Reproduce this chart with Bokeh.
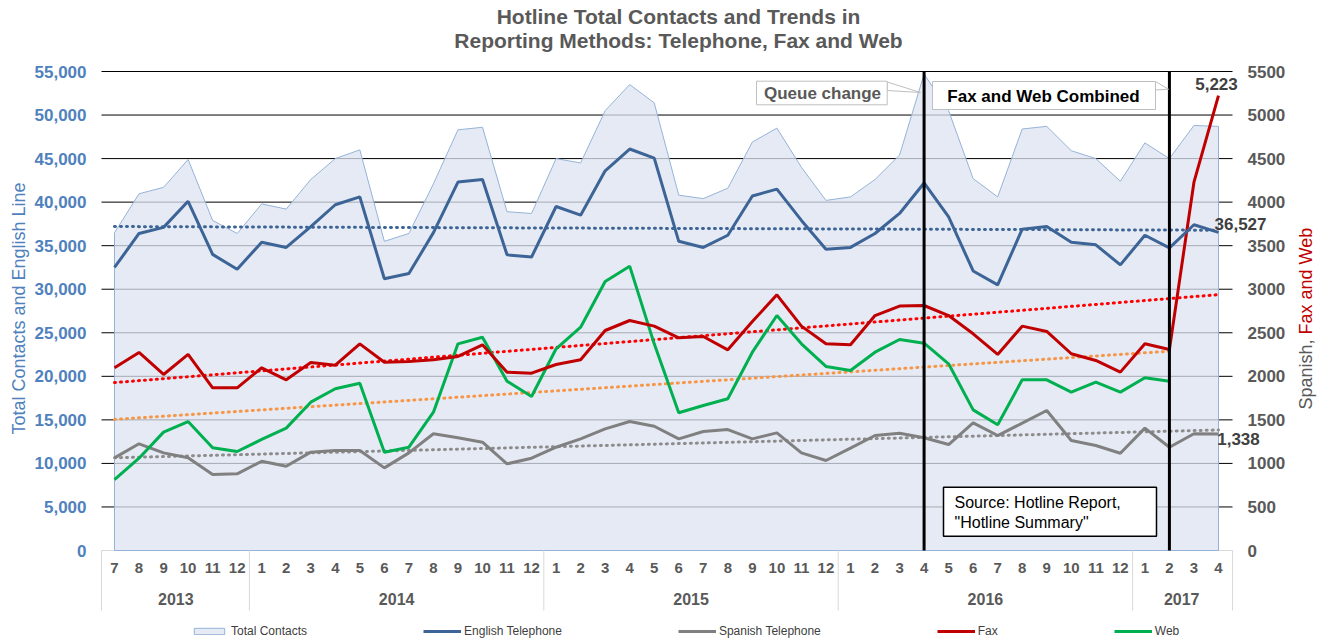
import numpy as np
from bokeh.plotting import figure
from bokeh.models import Range1d, Legend, LegendItem
from bokeh.embed import file_html
from bokeh.resources import INLINE
from bokeh.core.properties import value

# ---------------- data ----------------
years = ["2013", "2014", "2015", "2016", "2017"]
year_months = [[7, 8, 9, 10, 11, 12], list(range(1, 13)), list(range(1, 13)),
               list(range(1, 13)), [1, 2, 3, 4]]
months = [str(m) for ms in year_months for m in ms]

left_ticks = list(range(0, 55001, 5000))
right_ticks = list(range(0, 5501, 500))

total = [36500, 40960, 41700, 44900, 37900, 36400,
         39800, 39200, 42600, 45000, 46000, 35500, 36400, 42100, 48300, 48600, 38900, 38700,
         45000, 44500, 50500, 53500, 51400, 40800, 40400, 41600, 46900, 48500, 44000, 40200,
         40600, 42600, 45400, 54700, 50500, 42700, 40600, 48400, 48700, 45900, 45000, 42400,
         46800, 45000, 48800, 48700]
english = [32500, 36400, 37100, 40100, 34000, 32300,
           35400, 34800, 37200, 39700, 40600, 31200, 31800, 36500, 42300, 42600, 33950, 33700,
           39500, 38500, 43600, 46100, 45050, 35500, 34800, 36200, 40700, 41500, 37900, 34600,
           34800, 36400, 38700, 42200, 38300, 32100, 30500, 36900, 37200, 35400, 35100, 32800,
           36200, 34750, 37400, 36527]
spanish = [1064, 1225, 1121, 1064, 873, 880,
           1025, 968, 1129, 1148, 1148, 949, 1121, 1340, 1294, 1244, 995, 1060,
           1186, 1282, 1397, 1481, 1427, 1282, 1366, 1389, 1282, 1351, 1121, 1033,
           1175, 1320, 1347, 1294, 1217, 1466, 1320, 1462, 1608, 1263, 1206, 1117,
           1405, 1186, 1340, 1338]
fax = [2098, 2274, 2021, 2251, 1868, 1868,
       2098, 1960, 2159, 2128, 2373, 2162, 2170, 2190, 2228, 2362, 2048, 2036,
       2136, 2190, 2526, 2641, 2576, 2442, 2457, 2304, 2629, 2936, 2576, 2373,
       2362, 2698, 2806, 2813, 2698, 2488, 2251, 2576, 2515, 2259, 2182, 2048,
       2373, 2308, 4229, 5223]
web = [815, 1060, 1359, 1481, 1179, 1137,
       1275, 1405, 1703, 1857, 1921, 1129, 1186, 1588, 2373, 2449, 1944, 1768,
       2316, 2564, 3089, 3265, 2373, 1581, 1665, 1742, 2277, 2698, 2373, 2113,
       2067, 2277, 2423, 2380, 2144, 1615, 1443, 1960, 1960, 1818, 1933, 1818,
       1983, 1944]

queue_change_month = 33     # 2016-4
combined_month = 43         # 2017-2

# ---------------- styling / layout ----------------
FONT = "Liberation Sans"
GREY_TXT = "#595959"
BLUE_TXT = "#4F81BD"
C_TOTAL_FILL = "#DDE3F0"
C_TOTAL_LINE = "#95B3D7"
C_ENG = "#3C6496"
C_SPA = "#808080"
C_FAX = "#C00000"
C_WEB = "#00B050"

W, H = 1324, 642
KX = 24.533             # px per month
KY = 479 / 55000        # px per contact (left scale)
X0, Y0 = 114, 550       # pixel position of first month / zero line


def X(px):
    return (px - X0) / KX


def Y(py):
    return (Y0 - py) / KY


n = len(months)
idx = list(range(n))

p = figure(width=W, height=H, output_backend="svg", toolbar_location=None,
           x_range=Range1d(X(0), X(W)), y_range=Range1d(Y(H), Y(0)),
           x_axis_location=None, y_axis_location=None,
           min_border=0, min_border_left=0, min_border_right=0,
           min_border_top=0, min_border_bottom=0,
           background_fill_color="white", border_fill_color="white")
p.outline_line_color = None
p.xgrid.visible = False
p.ygrid.visible = False
p.extra_y_ranges = {"right": Range1d(Y(H) / 10, Y(0) / 10)}

x_left, x_right = X(101), X(1232)

# gridlines
gt = left_ticks[1:]
p.segment(x0=[x_left] * len(gt), x1=[x_right] * len(gt), y0=gt, y1=gt,
          line_color="black", line_width=1)
p.segment(x0=[x_left], x1=[x_right], y0=[0], y1=[0], line_color="#D9D9D9", line_width=1)

# total contacts area
r_total = p.patch(x=[idx[0]] + idx + [idx[-1]], y=[0] + total + [0],
                  fill_color=C_TOTAL_FILL, fill_alpha=0.75,
                  line_color=C_TOTAL_LINE, line_width=1)


# trendlines (least-squares, like the spreadsheet's linear trendline)
def trend(vals, color, rng="default"):
    xs = np.arange(len(vals))
    a, b = np.polyfit(xs, np.array(vals, dtype=float), 1)
    p.line([0, len(vals) - 1], [b, a * (len(vals) - 1) + b], line_color=color,
           line_width=3, line_dash="1 5", line_cap="round", y_range_name=rng)


trend(english, "#3C6496")
trend(spanish, "#8C8C8C", "right")
trend(web, "#F79646", "right")
trend(fax, "#FF0000", "right")

r_spa = p.line(idx, spanish, line_color=C_SPA, line_width=3, y_range_name="right")
r_web = p.line(idx[:len(web)], web, line_color=C_WEB, line_width=3, y_range_name="right")
r_fax = p.line(idx, fax, line_color=C_FAX, line_width=3, y_range_name="right")
r_eng = p.line(idx, english, line_color=C_ENG, line_width=3)

# vertical event lines
p.segment(x0=[queue_change_month, combined_month], x1=[queue_change_month, combined_month],
          y0=[0, 0], y1=[55000, 55000], line_color="black", line_width=3)

# callout boxes
p.patch([X(886.7), X(920), X(886.7)], [Y(81.5), Y(92), Y(90)], fill_color="white",
        line_color="#BFBFBF", line_width=1)
p.quad(left=[X(756)], right=[X(886.7)], top=[Y(80.7)], bottom=[Y(104.3)],
       fill_color="white", line_color="#BFBFBF", line_width=1)
p.text(x=[X(822)], y=[Y(93)], text=["Queue change"], text_font=value(FONT),
       text_font_size="17px", text_font_style="bold", text_color=GREY_TXT,
       text_align="center", text_baseline="middle")

p.patch([X(1155), X(1168), X(1155)], [Y(81), Y(88.7), Y(89.5)], fill_color="white",
        line_color="#BFBFBF", line_width=1)
p.quad(left=[X(932)], right=[X(1155)], top=[Y(81)], bottom=[Y(109)],
       fill_color="white", line_color="#BFBFBF", line_width=1)
p.text(x=[X(1043)], y=[Y(96)], text=["Fax and Web Combined"], text_font=value(FONT),
       text_font_size="17px", text_font_style="bold", text_color="black",
       text_align="center", text_baseline="middle")

p.quad(left=[X(943)], right=[X(1156)], top=[Y(486.7)], bottom=[Y(535.7)],
       fill_color="white", line_color="black", line_width=1.5)
p.text(x=[X(954), X(954)], y=[Y(501.5), Y(521.5)],
       text=["Source: Hotline Report,", "\"Hotline Summary\""], text_font=value(FONT),
       text_font_size="16px", text_color="black",
       text_align="left", text_baseline="middle")

# left axis tick labels
p.text(x=[X(86)] * len(left_ticks), y=left_ticks, text=[f"{t:,}" for t in left_ticks],
       text_font=value(FONT), text_font_size="17px", text_font_style="bold",
       text_color=BLUE_TXT, text_align="right", text_baseline="middle")
# right axis tick labels
p.text(x=[X(1247)] * len(right_ticks), y=right_ticks, text=[str(t) for t in right_ticks],
       y_range_name="right", text_font=value(FONT), text_font_size="17px",
       text_font_style="bold", text_color=GREY_TXT, text_align="left",
       text_baseline="middle")

# x axis: months, years, separators
p.text(x=idx, y=[Y(567)] * n, text=months, text_font=value(FONT), text_font_size="15px",
       text_font_style="bold", text_color=GREY_TXT, text_align="center",
       text_baseline="middle")
starts = np.cumsum([0] + [len(m) for m in year_months])
year_centers = [(starts[i] + starts[i + 1] - 1) / 2 for i in range(len(years))]
p.text(x=year_centers, y=[Y(598)] * len(years), text=years, text_font=value(FONT),
       text_font_size="16px", text_font_style="bold", text_color=GREY_TXT,
       text_align="center", text_baseline="middle")
seps = [x_left] + [s - 0.5 for s in starts[1:-1]] + [x_right]
p.segment(x0=seps, x1=seps, y0=[0] * len(seps), y1=[Y(610)] * len(seps),
          line_color="#D9D9D9", line_width=1)

# end value labels
p.text(x=[X(1216)], y=[Y(83)], text=[f"{fax[-1]:,}"], text_font=value(FONT),
       text_font_size="17px", text_font_style="bold", text_color="#404040",
       text_align="center", text_baseline="middle")
p.text(x=[X(1240)], y=[Y(223)], text=[f"{english[-1]:,}"], text_font=value(FONT),
       text_font_size="17px", text_font_style="bold", text_color="#404040",
       text_align="center", text_baseline="middle")
p.text(x=[X(1238)], y=[Y(438)], text=[f"{spanish[-1]:,}"], text_font=value(FONT),
       text_font_size="17px", text_font_style="bold", text_color="#404040",
       text_align="center", text_baseline="middle")

# titles
p.text(x=[X(678), X(678)], y=[Y(16), Y(40)],
       text=["Hotline Total Contacts and Trends in",
             "Reporting Methods: Telephone, Fax and Web"],
       text_font=value(FONT), text_font_size="21px", text_font_style="bold",
       text_color=GREY_TXT, text_align="center", text_baseline="middle")

# axis titles
p.text(x=[X(18)], y=[Y(308)], text=["Total Contacts and English Line"],
       text_font=value(FONT), text_font_size="18px", text_color=BLUE_TXT,
       angle=np.pi / 2, text_align="center", text_baseline="middle")
p.text(x=[X(1305)], y=[Y(339)], text=["Spanish,"],
       text_font=value(FONT), text_font_size="18px", text_color=GREY_TXT,
       angle=np.pi / 2, text_align="right", text_baseline="middle")
p.text(x=[X(1305)], y=[Y(334)], text=["Fax and Web"],
       text_font=value(FONT), text_font_size="18px", text_color=C_FAX,
       angle=np.pi / 2, text_align="left", text_baseline="middle")

legend = Legend(items=[LegendItem(label="Total Contacts", renderers=[r_total]),
                       LegendItem(label="English Telephone", renderers=[r_eng]),
                       LegendItem(label="Spanish Telephone", renderers=[r_spa]),
                       LegendItem(label="Fax", renderers=[r_fax]),
                       LegendItem(label="Web", renderers=[r_web])],
                orientation="horizontal", location=(190, 4), spacing=116,
                glyph_width=38, glyph_height=8, label_standoff=3, label_height=12,
                label_text_font=FONT, label_text_font_size="12px",
                label_text_color="#404040", border_line_color=None,
                background_fill_alpha=0, padding=0, margin=0)
p.add_layout(legend)

open("out.html", "w").write(file_html(p, INLINE))
